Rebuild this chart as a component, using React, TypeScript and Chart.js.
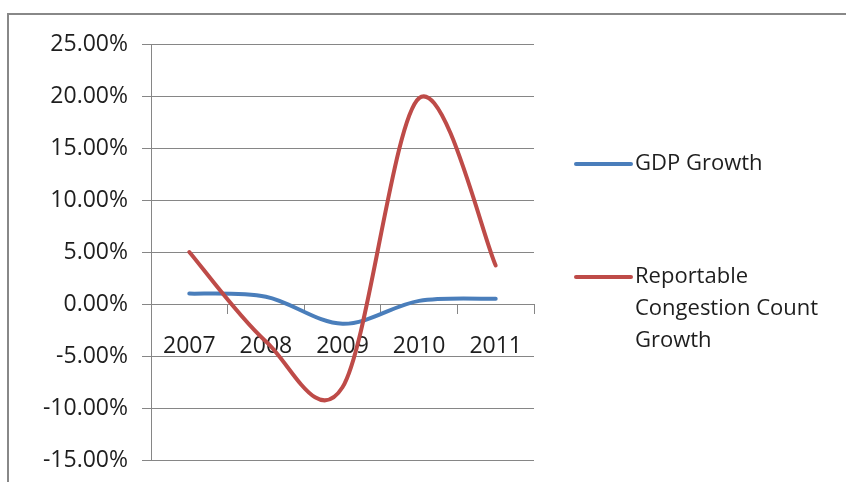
import React, { useEffect, useRef } from "react";
import { Chart, registerables } from "chart.js";

Chart.register(...registerables);

// Annual growth rates, in percent
const years = ["2007", "2008", "2009", "2010", "2011"];
const gdpGrowth = [1.0, 0.7, -1.9, 0.3, 0.5];
const congestionGrowth = [5.0, -3.6, -8.0, 19.8, 3.7];
const seriesNames = ["GDP Growth", "Reportable Congestion Count Growth"];
const seriesColors = ["#4A7EBB", "#BE4B48"];
const yMin = -15;
const yMax = 25;
const yStep = 5;

const FONT_FAMILY = "'Open Sans', 'Noto Sans', sans-serif";
const TEXT_COLOR = "#1e1e1e";
const GRID_COLOR = "#868686";

// Smooth the lines with a uniform Catmull-Rom spline through the data points
const catmullRomPlugin = {
  id: "catmullRom",
  beforeDatasetDraw(chart: any, args: any) {
    const meta = args.meta;
    const line = meta.dataset;
    if (!line || typeof line.updateControlPoints !== "function") return;
    line.updateControlPoints(chart.chartArea, "x");
    const pts = meta.data;
    const n = pts.length;
    for (let i = 0; i < n; i++) {
      const p = pts[i];
      const prev = pts[Math.max(i - 1, 0)];
      const next = pts[Math.min(i + 1, n - 1)];
      const dx = (next.x - prev.x) / 6;
      const dy = (next.y - prev.y) / 6;
      p.cp1x = p.x - dx;
      p.cp1y = p.y - dy;
      p.cp2x = p.x + dx;
      p.cp2y = p.y + dy;
    }
  },
};

// Outer chart frame
const framePlugin = {
  id: "frame",
  beforeDraw(chart: any) {
    const ctx = chart.ctx;
    ctx.save();
    ctx.strokeStyle = "#888888";
    ctx.lineWidth = 2;
    ctx.strokeRect(8, 14, chart.width + 40, chart.height + 40);
    ctx.restore();
  },
};

function wrapText(ctx: CanvasRenderingContext2D, text: string, maxWidth: number) {
  const words = text.split(" ");
  const lines: string[] = [];
  let cur = "";
  for (const w of words) {
    const test = cur ? cur + " " + w : w;
    if (cur && ctx.measureText(test).width > maxWidth) {
      lines.push(cur);
      cur = w;
    } else {
      cur = test;
    }
  }
  if (cur) lines.push(cur);
  return lines;
}

// Legend on the right, with wrapped labels
const sideLegendPlugin = {
  id: "sideLegend",
  afterDraw(chart: any) {
    const ctx = chart.ctx;
    const area = chart.chartArea;
    const x0 = area.right + 42;
    const lineLen = 55;
    const textX = x0 + lineLen + 4;
    const lineHeight = 32;
    const itemTops = [area.top + 120, area.top + 233];
    ctx.save();
    ctx.font = `22px ${FONT_FAMILY}`;
    ctx.textBaseline = "middle";
    ctx.textAlign = "left";
    chart.data.datasets.forEach((ds: any, i: number) => {
      const y = itemTops[i];
      ctx.strokeStyle = ds.borderColor;
      ctx.lineWidth = 4;
      ctx.lineCap = "round";
      ctx.beginPath();
      ctx.moveTo(x0, y);
      ctx.lineTo(x0 + lineLen, y);
      ctx.stroke();
      ctx.fillStyle = TEXT_COLOR;
      const lines = wrapText(ctx, ds.label, 200);
      lines.forEach((ln, k) => ctx.fillText(ln, textX, y + k * lineHeight));
    });
    ctx.restore();
  },
};

export default function App() {
  const canvasRef = useRef<HTMLCanvasElement | null>(null);

  useEffect(() => {
    const canvas = canvasRef.current;
    if (!canvas) return;
    const tickFont = { family: FONT_FAMILY, size: 23 };
    const chart = new Chart(canvas, {
      type: "line",
      data: {
        labels: years,
        datasets: [
          {
            label: seriesNames[0],
            data: gdpGrowth,
            borderColor: seriesColors[0],
            backgroundColor: seriesColors[0],
            borderWidth: 4,
            pointRadius: 0,
            tension: 0.4,
            borderCapStyle: "round",
            order: 1,
          },
          {
            label: seriesNames[1],
            data: congestionGrowth,
            borderColor: seriesColors[1],
            backgroundColor: seriesColors[1],
            borderWidth: 4,
            pointRadius: 0,
            tension: 0.4,
            borderCapStyle: "round",
            order: 0,
          },
        ],
      },
      options: {
        responsive: false,
        animation: false,
        layout: { padding: { left: 0, top: 44, right: 312, bottom: 22 } },
        plugins: {
          legend: { display: false },
          tooltip: { enabled: false },
        },
        scales: {
          x: {
            type: "category",
            position: { y: 0 },
            offset: true,
            grid: {
              display: true,
              drawOnChartArea: false,
              drawTicks: true,
              tickLength: 9,
              offset: true,
              color: GRID_COLOR,
            },
            border: { display: true, color: GRID_COLOR, width: 1 },
            ticks: { font: tickFont, color: TEXT_COLOR, padding: 20, maxRotation: 0 },
          },
          y: {
            type: "linear",
            min: yMin,
            max: yMax,
            grid: { color: GRID_COLOR, tickLength: 9 },
            border: { display: true, color: GRID_COLOR, width: 1 },
            ticks: {
              stepSize: yStep,
              font: tickFont,
              color: TEXT_COLOR,
              padding: 14,
              callback: (v: any) => Number(v).toFixed(2) + "%",
            },
            afterFit: (scale: any) => {
              scale.width = 151;
              scale.paddingTop = 0;
              scale.paddingBottom = 0;
            },
          },
        },
      },
      plugins: [framePlugin, catmullRomPlugin, sideLegendPlugin],
    } as any);
    return () => chart.destroy();
  }, []);

  return (
    <div style={{ position: "fixed", left: 0, top: 0, width: 846, height: 482, background: "#fff" }}>
      <canvas ref={canvasRef} width={846} height={482} style={{ display: "block" }} />
    </div>
  );
}
